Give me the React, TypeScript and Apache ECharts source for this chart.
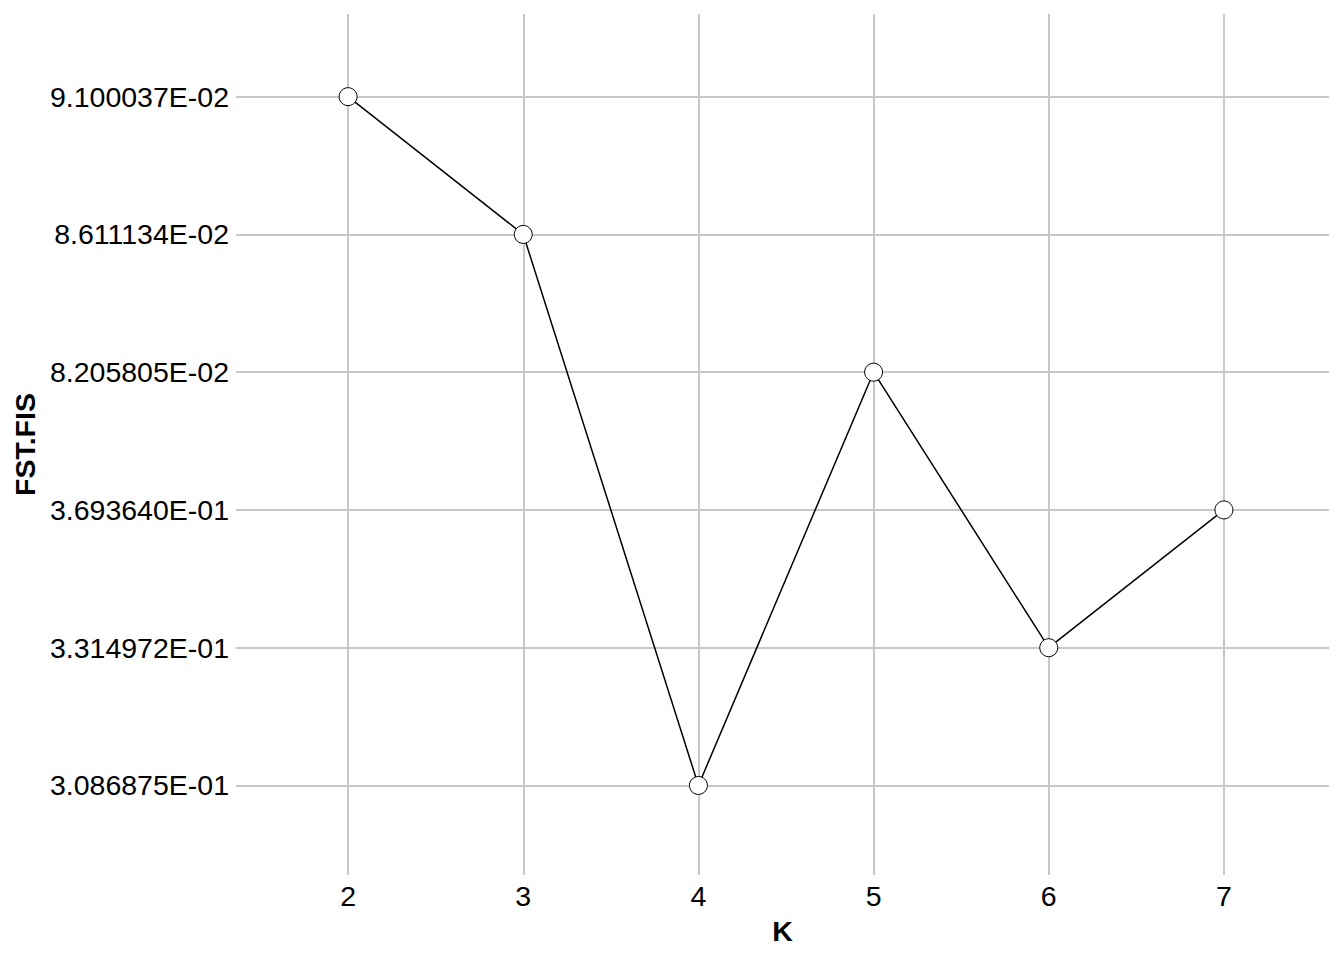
import React, { useEffect, useRef } from "react";
import * as echarts from "echarts";

const kValues = [2, 3, 4, 5, 6, 7];
// y levels as ordered on the axis, bottom to top
const yLevels = [
  "3.086875E-01",
  "3.314972E-01",
  "3.693640E-01",
  "8.205805E-02",
  "8.611134E-02",
  "9.100037E-02",
];
const fstFis = [
  "9.100037E-02",
  "8.611134E-02",
  "3.086875E-01",
  "8.205805E-02",
  "3.314972E-01",
  "3.693640E-01",
];

const FONT = "'Liberation Sans', Arial, sans-serif";

export default function App() {
  const ref = useRef<HTMLDivElement>(null);
  useEffect(() => {
    if (!ref.current) return;
    const chart = echarts.init(ref.current, null, { renderer: "svg" });
    const yIdx = yLevels.map((_, i) => i);
    const data = kValues.map((k, i) => [k, yLevels.indexOf(fstFis[i])]);
    chart.setOption({
      animation: false,
      backgroundColor: "#ffffff",
      grid: { left: 236, right: 15, top: 14, bottom: 85, containLabel: false },
      xAxis: {
        type: "value",
        min: 1.36,
        max: 7.6,
        name: "K",
        nameLocation: "middle",
        nameGap: 41,
        nameTextStyle: { fontFamily: FONT, fontSize: 28.5, fontWeight: "bold", color: "#000" },
        axisLine: { show: false },
        axisTick: { show: false, customValues: kValues },
        axisLabel: {
          customValues: kValues,
          fontFamily: FONT,
          fontSize: 28.5,
          color: "#000",
          margin: 6,
          formatter: (v: number) => String(v),
        },
        splitLine: { show: true, lineStyle: { color: "#c8c8c8", width: 2 } },
      },
      yAxis: {
        type: "value",
        min: -0.65,
        max: 5.6,
        name: "FST.FIS",
        nameLocation: "middle",
        nameGap: 195,
        nameTextStyle: { fontFamily: FONT, fontSize: 28.5, fontWeight: "bold", color: "#000" },
        axisLine: { show: false },
        axisTick: { show: false, customValues: yIdx },
        axisLabel: {
          customValues: yIdx,
          fontFamily: FONT,
          fontSize: 28.5,
          color: "#000",
          margin: 7,
          formatter: (v: number) => yLevels[Math.round(v)] ?? "",
        },
        splitLine: { show: true, lineStyle: { color: "#c8c8c8", width: 2 } },
      },
      series: [
        {
          type: "line",
          data,
          symbol: "circle",
          symbolSize: 18,
          lineStyle: { color: "#000", width: 1.5 },
          itemStyle: { color: "#fff", borderColor: "#000", borderWidth: 1 },
          z: 5,
        },
      ],
    });
    return () => chart.dispose();
  }, []);
  return <div ref={ref} style={{ width: 1344, height: 960, margin: -8 }} />;
}
